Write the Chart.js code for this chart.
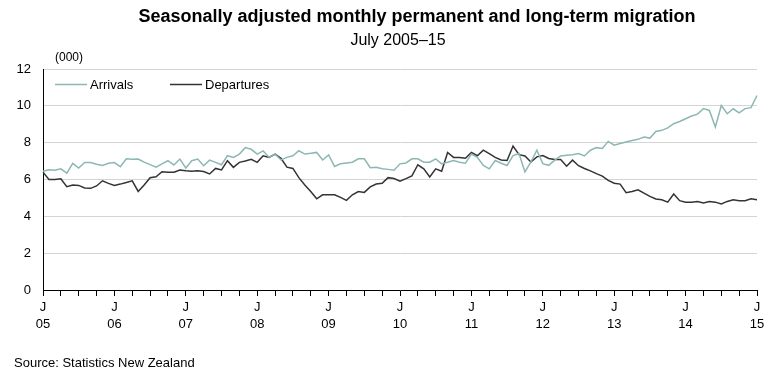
<!DOCTYPE html>
<html>
<head>
<meta charset="utf-8">
<script src="https://cdn.jsdelivr.net/npm/chart.js@4.4.0/dist/chart.umd.min.js"></script>
<style>
  body { margin: 0; background: #fff; }
  #wrap { width: 771px; height: 376px; }
</style>
</head>
<body>
<div id="wrap"><canvas id="migration" width="771" height="376"></canvas></div>
<script>
// monthly values (000), July 2005 to July 2015
const arrivals = [
  6.45, 6.53, 6.5, 6.58, 6.35, 6.88, 6.62, 6.92, 6.92, 6.83, 6.76, 6.88,
  6.92, 6.7, 7.13, 7.1, 7.11, 6.94, 6.81, 6.67, 6.85, 7.02, 6.79, 7.11,
  6.63, 7.02, 7.11, 6.75, 7.05, 6.93, 6.8, 7.29, 7.2, 7.38, 7.73, 7.64,
  7.38, 7.55, 7.2, 7.38, 7.06, 7.2, 7.29, 7.56, 7.38, 7.42, 7.47, 7.06,
  7.33, 6.71, 6.85, 6.9, 6.94, 7.12, 7.12, 6.64, 6.67, 6.58, 6.55, 6.5,
  6.85, 6.9, 7.12, 7.12, 6.94, 6.94, 7.12, 6.85, 6.94, 7.03, 6.94, 6.88,
  7.38, 7.2, 6.76, 6.58, 7.03, 6.88, 6.76, 7.3, 7.41, 6.41, 6.95, 7.59,
  6.86, 6.77, 7.05, 7.28, 7.32, 7.35, 7.41, 7.28, 7.59, 7.73, 7.68, 8.07,
  7.86, 7.95, 8.04, 8.12, 8.18, 8.31, 8.25, 8.61, 8.67, 8.8, 9.03, 9.15,
  9.3, 9.45, 9.55, 9.85, 9.75, 8.85, 10.02, 9.57, 9.84, 9.62, 9.85, 9.9,
  10.56
];
const departures = [
  6.4, 6.0, 6.0, 6.04, 5.61, 5.7, 5.68, 5.54, 5.52, 5.65, 5.93, 5.79,
  5.68, 5.75, 5.84, 5.93, 5.35, 5.7, 6.1, 6.15, 6.42, 6.39, 6.4, 6.52,
  6.48, 6.45, 6.48, 6.43, 6.3, 6.6, 6.52, 7.02, 6.66, 6.93, 7.0, 7.1,
  6.93, 7.29, 7.2, 7.38, 7.15, 6.67, 6.6, 6.1, 5.7, 5.35, 4.95, 5.17,
  5.17, 5.17, 5.03, 4.87, 5.17, 5.35, 5.3, 5.6, 5.75, 5.79, 6.1, 6.05,
  5.91, 6.05, 6.2, 6.8, 6.58, 6.14, 6.58, 6.45, 7.47, 7.2, 7.2, 7.15,
  7.47, 7.29, 7.59, 7.4, 7.2, 7.06, 7.03, 7.82, 7.35, 7.28, 6.95, 7.23,
  7.3, 7.14, 7.08, 7.08, 6.72, 7.05, 6.75, 6.6, 6.47, 6.32, 6.18, 5.95,
  5.8, 5.75, 5.28, 5.35, 5.44, 5.26, 5.08, 4.94, 4.9, 4.77, 5.21, 4.85,
  4.77, 4.77, 4.81, 4.72, 4.81, 4.77, 4.67, 4.81, 4.9, 4.85, 4.85, 4.95,
  4.9
];
const years = ['05', '06', '07', '08', '09', '10', '11', '12', '13', '14', '15'];

const monthNames = ['Jan', 'Feb', 'Mar', 'Apr', 'May', 'Jun', 'Jul', 'Aug', 'Sep', 'Oct', 'Nov', 'Dec'];
const labels = arrivals.map((_, i) => {
  const m = (6 + i) % 12;
  const y = 2005 + Math.floor((6 + i) / 12);
  return monthNames[m] + ' ' + y;
});

const FONT = "'Liberation Sans', Arial, sans-serif";

// titles, unit label, legend and source drawn on the canvas
const textPlugin = {
  id: 'texts',
  afterDraw(chart) {
    const c = chart.ctx;
    c.save();
    c.fillStyle = '#000';
    c.textBaseline = 'middle';
    c.textAlign = 'center';
    c.font = 'bold 18px ' + FONT;
    c.fillText('Seasonally adjusted monthly permanent and long-term migration', 417, 17);
    c.font = '16px ' + FONT;
    c.fillText('July 2005\u201315', 398, 41);

    c.textAlign = 'left';
    c.font = '12px ' + FONT;
    c.fillText('(000)', 55, 58);
    c.font = '13px ' + FONT;
    c.fillText('Source: Statistics New Zealand', 14, 363);

    // legend
    const items = [
      { ds: chart.data.datasets[0], x: 55 },
      { ds: chart.data.datasets[1], x: 170 }
    ];
    items.forEach(it => {
      c.strokeStyle = it.ds.borderColor;
      c.lineWidth = 1.5;
      c.beginPath();
      c.moveTo(it.x, 84.5);
      c.lineTo(it.x + 32, 84.5);
      c.stroke();
      c.fillStyle = '#000';
      c.fillText(it.ds.label, it.x + 35, 85);
    });
    c.restore();
  }
};

const ctx = document.getElementById('migration').getContext('2d');
const chart = new Chart(ctx, {
  type: 'line',
  data: {
    labels: labels,
    datasets: [
      {
        label: 'Arrivals',
        data: arrivals,
        borderColor: '#8db7b3',
        borderWidth: 1.5,
        pointRadius: 0,
        tension: 0
      },
      {
        label: 'Departures',
        data: departures,
        borderColor: '#333333',
        borderWidth: 1.5,
        pointRadius: 0,
        tension: 0
      }
    ]
  },
  options: {
    responsive: false,
    animation: false,
    layout: { padding: { left: 0, right: 14, top: 69, bottom: 0 } },
    plugins: {
      legend: { display: false },
      title: { display: false },
      tooltip: { enabled: false }
    },
    scales: {
      x: {
        offset: false,
        afterFit: function (scale) { scale.height = 86; },
        grid: {
          drawOnChartArea: false,
          tickLength: 6,
          tickColor: function (c) { return c.index % 3 === 0 ? '#000' : 'rgba(0,0,0,0)'; }
        },
        border: { color: '#000', width: 1 },
        ticks: {
          autoSkip: false,
          maxRotation: 0,
          padding: 3,
          color: '#000',
          font: { family: FONT, size: 13, lineHeight: 1.3 },
          callback: function (value, index) {
            if (index % 12 === 0) return ['J', years[index / 12]];
            return '';
          }
        }
      },
      y: {
        min: 0,
        max: 12,
        afterFit: function (scale) { scale.width = 43; },
        grid: { color: '#d4d4d4', drawTicks: false },
        border: { color: '#000', width: 1 },
        ticks: {
          stepSize: 2,
          padding: 12,
          color: '#000',
          font: { family: FONT, size: 13 }
        }
      }
    }
  },
  plugins: [textPlugin]
});
</script>
</body>
</html>
